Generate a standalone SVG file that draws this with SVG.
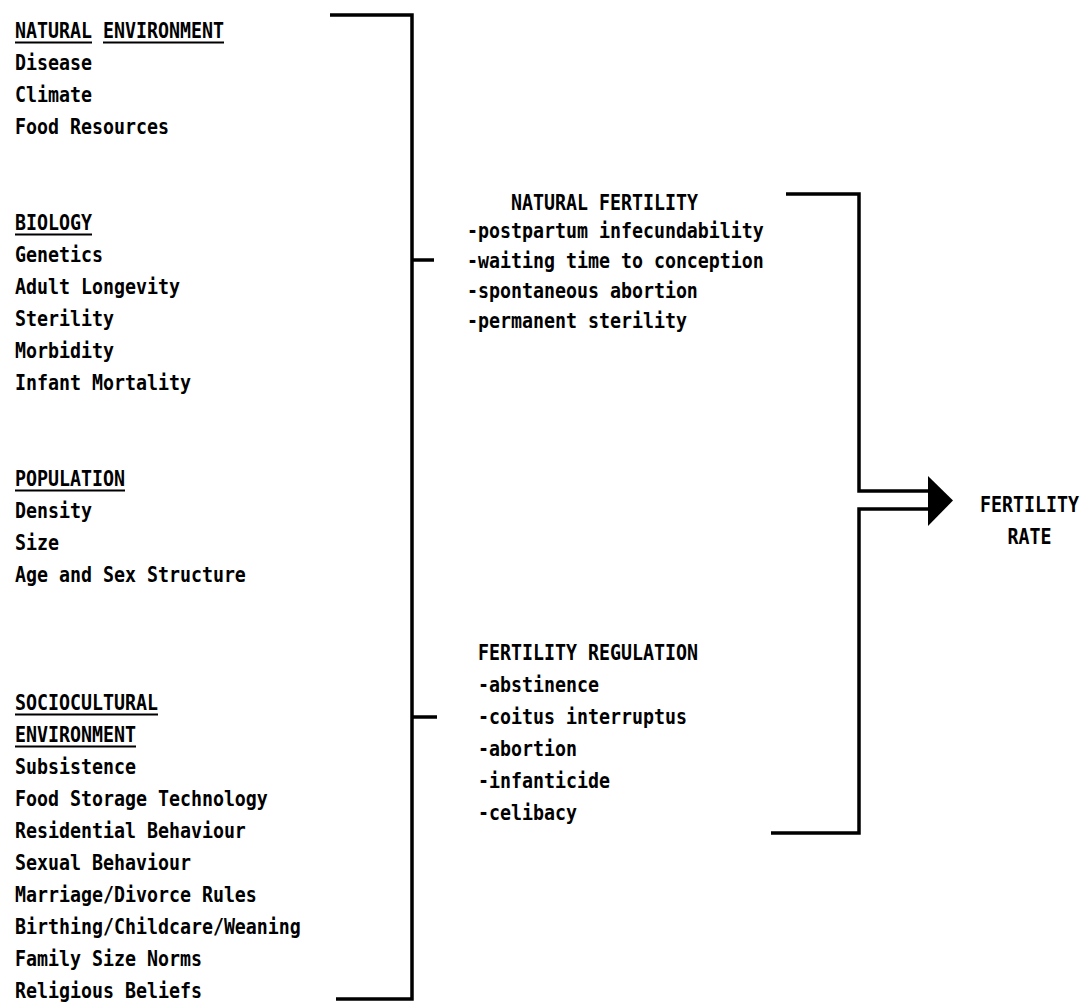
<svg xmlns="http://www.w3.org/2000/svg" width="1081" height="1002" viewBox="0 0 1081 1002">
<style>
  text { font-family: "DejaVu Sans Mono", "Liberation Mono", monospace; font-size: 21px; font-weight: bold; fill: #000; }
  .ul { stroke: #000; stroke-width: 2.2; }
  .conn { fill: none; stroke: #000; stroke-width: 3.5; stroke-linejoin: miter; }
</style>
<rect width="1081" height="1002" fill="#fff"/>

<g id="natural-environment">
  <g transform="translate(15 0) scale(0.87 1)">
    <text x="0" y="38">NATURAL ENVIRONMENT</text>
    <text x="0" y="70">Disease</text>
    <text x="0" y="102">Climate</text>
    <text x="0" y="134">Food Resources</text>
  </g>
  <line class="ul" x1="15" y1="42.5" x2="92" y2="42.5"/>
  <line class="ul" x1="103" y1="42.5" x2="224" y2="42.5"/>
</g>

<g id="biology">
  <g transform="translate(15 0) scale(0.87 1)">
    <text x="0" y="230">BIOLOGY</text>
    <text x="0" y="262">Genetics</text>
    <text x="0" y="294">Adult Longevity</text>
    <text x="0" y="326">Sterility</text>
    <text x="0" y="358">Morbidity</text>
    <text x="0" y="390">Infant Mortality</text>
  </g>
  <line class="ul" x1="15" y1="234.5" x2="92" y2="234.5"/>
</g>

<g id="population">
  <g transform="translate(15 0) scale(0.87 1)">
    <text x="0" y="486">POPULATION</text>
    <text x="0" y="518">Density</text>
    <text x="0" y="550">Size</text>
    <text x="0" y="582">Age and Sex Structure</text>
  </g>
  <line class="ul" x1="15" y1="490.5" x2="125" y2="490.5"/>
</g>

<g id="sociocultural-environment">
  <g transform="translate(15 0) scale(0.87 1)">
    <text x="0" y="710">SOCIOCULTURAL</text>
    <text x="0" y="742">ENVIRONMENT</text>
    <text x="0" y="774">Subsistence</text>
    <text x="0" y="806">Food Storage Technology</text>
    <text x="0" y="838">Residential Behaviour</text>
    <text x="0" y="870">Sexual Behaviour</text>
    <text x="0" y="902">Marriage/Divorce Rules</text>
    <text x="0" y="934">Birthing/Childcare/Weaning</text>
    <text x="0" y="966">Family Size Norms</text>
    <text x="0" y="998">Religious Beliefs</text>
  </g>
  <line class="ul" x1="15" y1="714.5" x2="158" y2="714.5"/>
  <line class="ul" x1="15" y1="746.5" x2="136" y2="746.5"/>
</g>

<g id="natural-fertility">
  <g transform="translate(467 0) scale(0.87 1)">
    <text x="50.6" y="210">NATURAL FERTILITY</text>
    <text x="0" y="238">-postpartum infecundability</text>
    <text x="0" y="268">-waiting time to conception</text>
    <text x="0" y="298">-spontaneous abortion</text>
    <text x="0" y="328">-permanent sterility</text>
  </g>
</g>

<g id="fertility-regulation">
  <g transform="translate(478 0) scale(0.87 1)">
    <text x="0" y="660">FERTILITY REGULATION</text>
    <text x="0" y="692">-abstinence</text>
    <text x="0" y="724">-coitus interruptus</text>
    <text x="0" y="756">-abortion</text>
    <text x="0" y="788">-infanticide</text>
    <text x="0" y="820">-celibacy</text>
  </g>
</g>

<g id="fertility-rate">
  <g transform="translate(980 0) scale(0.87 1)">
    <text x="0" y="512">FERTILITY</text>
    <text x="31.6" y="544">RATE</text>
  </g>
</g>

<g id="connectors">
  <path class="conn" d="M330,15 H412 V999 H336"/>
  <path class="conn" d="M412,260 H434"/>
  <path class="conn" d="M412,717 H437"/>
  <path class="conn" d="M786,194 H859 V491 H930"/>
  <path class="conn" d="M930,509 H859 V833 H771"/>
  <polygon points="928,476 953,500.5 928,526" fill="#000"/>
</g>
</svg>
